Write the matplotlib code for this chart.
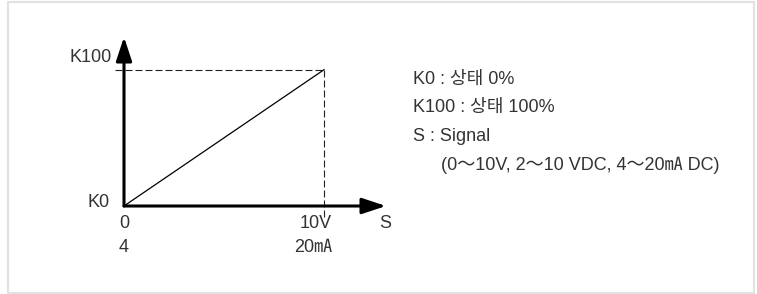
import matplotlib
matplotlib.use("Agg")
import matplotlib.pyplot as plt
from matplotlib.patches import Rectangle

plt.rcParams['font.family'] = ['Liberation Sans', 'Noto Sans CJK KR', 'DejaVu Sans']
plt.rcParams['lines.scale_dashes'] = False

# data
signal = [0, 10]          # S (V)
state = [0, 100]          # K (%)
x_max, y_max = 13.1, 124
x_tick_labels = [("0", "4"), ("10V", "20㎃")]
legend_lines = ["K0 : 상태 0%", "K100 : 상태 100%", "S : Signal", "(0～10V, 2～10 VDC, 4～20㎃ DC)"]

TXT = "#333333"
W, H = 757, 294
fig = plt.figure(figsize=(W / 100, H / 100), dpi=100)
fig.patch.set_facecolor("white")
fig.patches.append(Rectangle((8 / W, 1 / H), 746 / W, 291 / H, transform=fig.transFigure,
                             fill=False, edgecolor="#e2e2e2", linewidth=1.5))

ax = fig.add_axes([124 / W, (H - 206) / H, (386 - 124) / W, (206 - 37) / H])
ax.set_xlim(0, x_max)
ax.set_ylim(0, y_max)
ax.axis("off")

# dashed guides
ax.plot([-0.45, signal[1]], [state[1], state[1]], color="#222222", lw=0.8, dashes=(5, 2.2), clip_on=False)
ax.plot([signal[1], signal[1]], [state[1], -8.5], color="#222222", lw=0.8, dashes=(5, 2.2), clip_on=False)

# signal line
ax.plot(signal, state, color="black", lw=0.9, clip_on=False)

# axes arrows
ap = dict(arrowstyle="-|>,head_length=1.45,head_width=0.48", lw=2.2, color="black",
          shrinkA=0, shrinkB=0, mutation_scale=10)
ax.annotate("", xy=(0, y_max), xytext=(0, 0), arrowprops=ap, annotation_clip=False)
ax.annotate("", xy=(x_max, 0), xytext=(0, 0), arrowprops=ap, annotation_clip=False)

fs = 13
ax.text(-0.6, 109, "K100", ha="right", va="center", fontsize=fs, color=TXT, clip_on=False)
ax.text(-0.7, 2.5, "K0", ha="right", va="center", fontsize=fs, color=TXT, clip_on=False)
for xv, (l1, l2) in zip(signal, x_tick_labels):
    ax.text(xv - (0.4 if xv else 0), -12.5, l1, ha="center", va="center", fontsize=fs, color=TXT, clip_on=False)
    ax.text(xv - (0.55 if xv else 0), -30.5, l2, ha="center", va="center", fontsize=fs, color=TXT, clip_on=False)
ax.text(x_max - 0.05, -12.5, "S", ha="center", va="center", fontsize=fs, color=TXT, clip_on=False)

for i, line in enumerate(legend_lines):
    x0 = 413 if i < 3 else 441
    fig.text(x0 / W, (H - 79 - i * 28.7) / H, line, ha="left", va="center", fontsize=fs, color=TXT)

fig.savefig("out.png", dpi=100, facecolor="white")
